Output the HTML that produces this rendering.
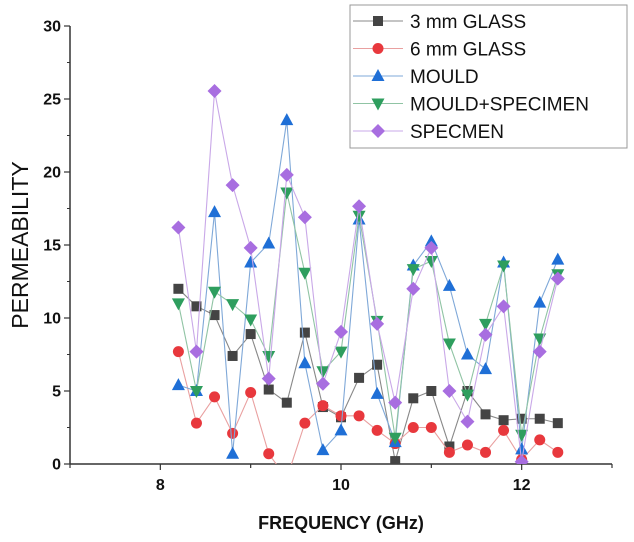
<!DOCTYPE html>
<html><head><meta charset="utf-8"><style>
body{margin:0;background:#fff}
svg{display:block;font-family:"Liberation Sans",sans-serif}
</style></head><body>
<svg id="chart" width="634" height="542"></svg>
<script>
const xs=[8.2,8.4,8.6,8.8,9.0,9.2,9.4,9.6,9.8,10.0,10.2,10.4,10.6,10.8,11.0,11.2,11.4,11.6,11.8,12.0,12.2,12.4];
const glass3=[12.0,10.8,10.2,7.4,8.9,5.1,4.2,9.0,3.9,3.2,5.9,6.8,0.2,4.5,5.0,1.2,5.0,3.4,3.0,3.1,3.1,2.8];
const glass6=[7.7,2.8,4.6,2.1,4.9,0.7,-1.0,2.8,4.0,3.3,3.3,2.3,1.4,2.5,2.5,0.8,1.3,0.8,2.3,0.3,1.65,0.8];
const mould=[5.4,5.0,17.25,0.7,13.8,15.1,23.55,6.9,0.95,2.3,16.75,4.8,1.5,13.6,15.25,12.2,7.5,6.5,13.8,1.0,11.05,14.0];
const mouldSpec=[11.0,5.0,11.8,10.95,9.9,7.4,18.6,13.1,6.35,7.7,17.0,9.8,1.8,13.35,13.9,8.25,4.75,9.6,13.6,2.0,8.6,13.0];
const specimen=[16.2,7.7,25.55,19.1,14.8,5.85,19.8,16.9,5.5,9.05,17.65,9.6,4.2,12.0,14.8,5.0,2.9,8.85,10.8,0.15,7.7,12.7];
const yTicks=[0,5,10,15,20,25,30];
const xTicks=[8,10,12];
const names=["3 mm GLASS","6 mm GLASS","MOULD","MOULD+SPECIMEN","SPECMEN"];

const NS="http://www.w3.org/2000/svg";
const svg=document.getElementById('chart');
const L=70,R=612,T=26,B=464,X0=7,X1=13,Y0=0,Y1=30;
const sx=v=>L+(v-X0)/(X1-X0)*(R-L);
const sy=v=>B-(v-Y0)/(Y1-Y0)*(B-T);
function mk(tag,attrs,parent){const e=document.createElementNS(NS,tag);for(const k in attrs)e.setAttribute(k,attrs[k]);(parent||svg).appendChild(e);return e;}
const defs=mk('defs',{});
const cp=mk('clipPath',{id:'clip'},defs);
mk('rect',{x:L,y:T-10,width:R-L,height:B-T+10},cp);

const ax=mk('g',{});


mk('line',{x1:L,y1:T,x2:L,y2:B,stroke:'#333','stroke-width':1.5},ax);
mk('line',{x1:L,y1:B,x2:R,y2:B,stroke:'#333','stroke-width':1.5},ax);
yTicks.forEach(v=>{
  mk('line',{x1:L-6,y1:sy(v),x2:L,y2:sy(v),stroke:'#333','stroke-width':1.2},ax);
  if(v<30) mk('line',{x1:L-3,y1:sy(v+2.5),x2:L,y2:sy(v+2.5),stroke:'#333','stroke-width':1},ax);
  const t=mk('text',{x:L-9,y:sy(v)+5.5,'text-anchor':'end','font-size':16,'font-weight':'bold',fill:'#111'},ax);
  t.textContent=v;
  
  
});
for(let v=X0;v<=X1;v++){
  const major=xTicks.includes(v);
  mk('line',{x1:sx(v),y1:B,x2:sx(v),y2:B+(major?6:4),stroke:'#333','stroke-width':1.2},ax);
}
xTicks.forEach(v=>{
  const t=mk('text',{x:sx(v),y:B+26,'text-anchor':'middle','font-size':16,'font-weight':'bold',fill:'#111'},ax);
  t.textContent=v;
  
  
});
const xt=mk('text',{x:341,y:529,'text-anchor':'middle','font-size':18,'font-weight':'bold',fill:'#111'});
xt.textContent='FREQUENCY (GHz)';


const yt=mk('text',{x:0,y:0,'text-anchor':'middle','font-size':23,fill:'#111',transform:'translate(28,245) rotate(-90)'});
yt.textContent='PERMEABILITY';



const series=[
 {d:glass3,c:'#444',lc:'#888',m:'sq'},
 {d:glass6,c:'#e8383d',lc:'#e9a0a0',m:'ci'},
 {d:mould,c:'#1f6fd6',lc:'#7fa8d8',m:'tu'},
 {d:mouldSpec,c:'#2e9e5e',lc:'#90c4a4',m:'td'},
 {d:specimen,c:'#a86ee0',lc:'#c9a8e8',m:'di'}];
function marker(g,type,x,y,c){
  if(type==='sq')return mk('rect',{x:x-5,y:y-5,width:10,height:10,fill:c},g);
  if(type==='ci')return mk('circle',{cx:x,cy:y,r:5.5,fill:c},g);
  if(type==='tu')return mk('polygon',{points:`${x},${y-7} ${x+6.5},${y+5} ${x-6.5},${y+5}`,fill:c},g);
  if(type==='td')return mk('polygon',{points:`${x},${y+7} ${x+6.5},${y-5} ${x-6.5},${y-5}`,fill:c},g);
  return mk('polygon',{points:`${x},${y-7} ${x+7},${y} ${x},${y+7} ${x-7},${y}`,fill:c},g);
}
series.forEach((s,i)=>{
  const g=mk('g',{'clip-path':'url(#clip)'});
  
  
  const pts=s.d.map((v,j)=>sx(xs[j])+','+sy(v)).join(' ');
  const pl=mk('polyline',{points:pts,fill:'none',stroke:s.lc,'stroke-width':1.1},g);
  
  
  s.d.forEach((v,j)=>{
    const m=marker(g,s.m,sx(xs[j]),sy(v),s.c);
    
    
  });
});

const lg=mk('g',{});


mk('rect',{x:350,y:5,width:277,height:143,fill:'#fff',stroke:'#999','stroke-width':1},lg);
series.forEach((s,i)=>{
  const y=21+i*27.5;
  const e=mk('g',{},lg);
  
  
  mk('line',{x1:353,y1:y,x2:403,y2:y,stroke:s.lc,'stroke-width':1},e);
  marker(e,s.m,378,y,s.c);
  const t=mk('text',{x:410,y:y+7,'font-size':19,fill:'#111'},e);
  t.textContent=names[i];
});
</script>
</body></html>
